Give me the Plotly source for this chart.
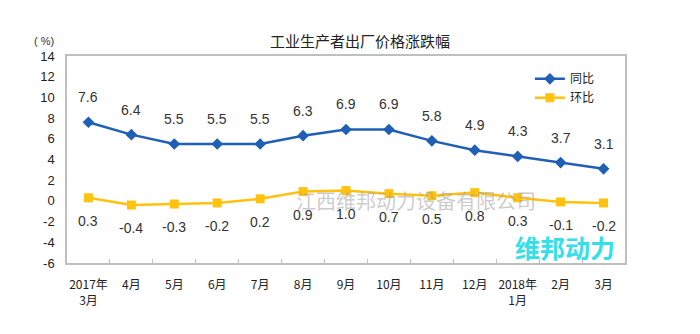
import plotly.graph_objects as go

categories = ["2017年<br>3月", "4月", "5月", "6月", "7月", "8月", "9月", "10月",
              "11月", "12月", "2018年<br>1月", "2月", "3月"]
yoy = [7.6, 6.4, 5.5, 5.5, 5.5, 6.3, 6.9, 6.9, 5.8, 4.9, 4.3, 3.7, 3.1]
mom = [0.3, -0.4, -0.3, -0.2, 0.2, 0.9, 1.0, 0.7, 0.5, 0.8, 0.3, -0.1, -0.2]
y_ticks = list(range(-6, 15, 2))

BLUE = "#1F5FB5"
YELLOW = "#FFC20E"
LABEL_FONT = dict(family="Liberation Sans, Arial", size=14, color="#333333")

fig = go.Figure()
fig.add_trace(go.Scatter(
    x=categories, y=yoy, name="同比", mode="lines+markers",
    line=dict(color=BLUE, width=2.5),
    marker=dict(symbol="diamond", size=9, color=BLUE),
))
fig.add_trace(go.Scatter(
    x=categories, y=mom, name="环比", mode="lines+markers",
    line=dict(color=YELLOW, width=2.5),
    marker=dict(symbol="square", size=9, color=YELLOW),
))

annotations = []
for c, v in zip(categories, yoy):
    annotations.append(dict(x=c, y=v, xref="x", yref="y", text=f"{v:.1f}",
                            showarrow=False, yshift=25, font=LABEL_FONT))
for c, v in zip(categories, mom):
    annotations.append(dict(x=c, y=v, xref="x", yref="y", text=f"{v:.1f}",
                            showarrow=False, yshift=-23, font=LABEL_FONT))

# title and unit
annotations.append(dict(x=0.525, y=1, xref="paper", yref="paper", yshift=16,
                        text="工业生产者出厂价格涨跌幅", showarrow=False,
                        font=dict(family="Noto Sans CJK SC", size=15, color="#222222"),
                        yanchor="middle"))
annotations.append(dict(x=-0.02, y=1, xref="paper", yref="paper", yshift=15,
                        text="( %)", showarrow=False, xanchor="right",
                        font=dict(family="Liberation Sans, Arial", size=11, color="#333333"),
                        yanchor="middle"))
# watermarks
annotations.append(dict(x=0.625, y=0.03, xref="paper", yref="y",
                        text="江西维邦动力设备有限公司", showarrow=False,
                        font=dict(family="Noto Sans CJK SC", size=20, color="rgba(160,160,160,0.55)"),
                        yanchor="middle"))
annotations.append(dict(x=0.986, y=-4.45, xref="paper", yref="y",
                        text="<b>维邦动力</b>", showarrow=False, xanchor="right",
                        font=dict(family="Noto Sans CJK SC", size=25, color="#33E0EA"),
                        yanchor="middle"))

fig.update_layout(
    width=700, height=334,
    margin=dict(l=67, r=75, t=56, b=71),
    paper_bgcolor="white", plot_bgcolor="white",
    showlegend=True,
    legend=dict(x=0.955, y=0.96, xanchor="right", yanchor="top",
                font=dict(family="Noto Sans CJK SC", size=12, color="#222222"),
                bgcolor="rgba(0,0,0,0)", itemwidth=30, tracegroupgap=2),
    annotations=annotations,
)
fig.update_xaxes(
    type="category", range=[-0.5, len(categories) - 0.5],
    showline=True, linecolor="#BFBFBF", linewidth=1.5, mirror=True,
    ticks="inside", tickson="boundaries", ticklen=4, tickcolor="#BFBFBF",
    showgrid=False, zeroline=False, tickangle=0, ticklabelstandoff=10,
    tickfont=dict(family="Noto Sans CJK SC", size=12, color="#222222"),
)
fig.update_yaxes(
    range=[-6, 14], tickvals=y_ticks, ticktext=[str(t) for t in y_ticks],
    showline=True, linecolor="#BFBFBF", linewidth=1.5, mirror=True,
    ticks="", showgrid=False, zeroline=False, ticklabelstandoff=8,
    tickfont=dict(family="Liberation Sans, Arial", size=13, color="#222222"),
)

fig.write_html("out.html")
